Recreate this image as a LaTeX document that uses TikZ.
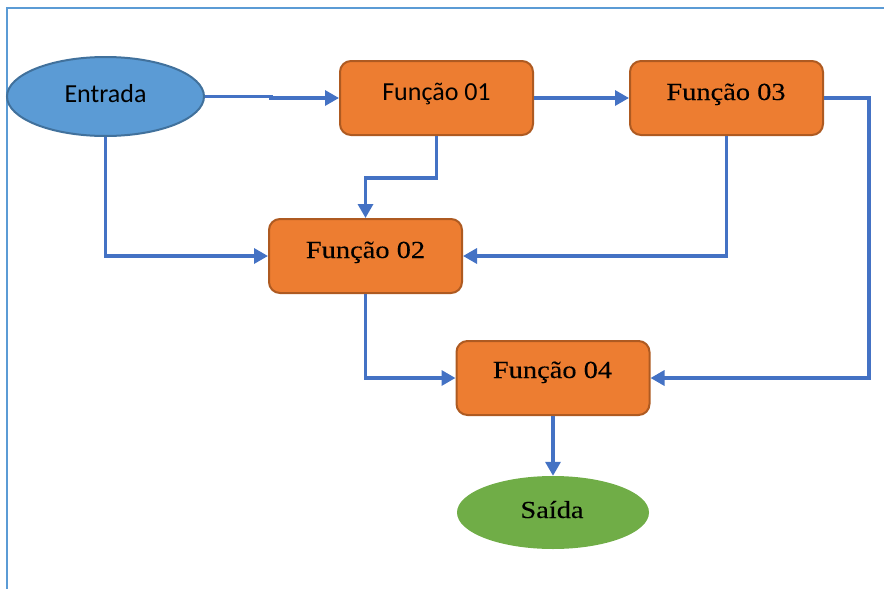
\documentclass[tikz,border=0pt]{standalone}
\usepackage{fontspec}
\setmainfont{Liberation Serif}
\newfontfamily\camb[FakeBold=0.15]{Liberation Serif}
\newfontfamily\calib{Carlito}
\usetikzlibrary{shapes.geometric,arrows.meta}
\definecolor{conn}{HTML}{4472C4}
\definecolor{orfill}{HTML}{ED7D31}
\definecolor{ordraw}{HTML}{AE5A21}
\definecolor{bluefill}{HTML}{5B9BD5}
\definecolor{bluedraw}{HTML}{41719C}
\definecolor{greenfill}{HTML}{70AD47}
\definecolor{framec}{HTML}{5B9BD5}
\newcommand{\serif}[1]{\scalebox{1.16}[1]{\camb\fontsize{24.5}{26}\selectfont #1}}
\tikzset{
  fbox/.style={draw=ordraw, fill=orfill, line width=2pt, rounded corners=11pt,
    minimum width=193pt, minimum height=74pt, inner sep=0pt},
  lbl/.style={anchor=base, inner sep=0pt},
  wire/.style={draw=conn, line width=3.3pt, -{Triangle[length=14pt,width=15pt]}},
}
\begin{document}
\begin{tikzpicture}[x=1pt,y=-1pt]
\useasboundingbox (0,0) rectangle (884,589);
\draw[framec, line width=1.6pt] (7,589) -- (7,8) -- (884,8);
% shapes
\node[ellipse, draw=bluedraw, fill=bluefill, line width=2pt, minimum width=197pt, minimum height=79pt, inner sep=0pt] (E) at (105.5,96.5) {};
\node[fbox] (F1) at (436.5,98) {};
\node[fbox] (F3) at (726.5,98) {};
\node[fbox] (F2) at (365.5,256) {};
\node[fbox] (F4) at (553,378) {};
\node[ellipse, fill=greenfill, minimum width=192pt, minimum height=73pt, inner sep=0pt] (S) at (553,512.5) {};
% labels
\node[lbl] (tE) at (105.5,102) {\calib\fontsize{26}{28}\selectfont Entrada};
\node[lbl] (t1) at (436.5,100.5) {\calib\fontsize{26}{28}\selectfont Função 01};
\node[lbl] (t3) at (726,100) {\serif{Função 03}};
\node[lbl] (t2) at (365.5,258) {\serif{Função 02}};
\node[lbl] (t4) at (552.5,378) {\serif{Função 04}};
\node[lbl] (tS) at (552,518) {\serif{Saída}};
% connectors
\draw[wire] (E.east) -- ++(66,0) |- (F1.west);
\draw[wire] (F1.east) -- (F3.west);
\draw[wire] (F1.south) -- ++(0,42) -| (F2.north);
\draw[wire] (E.south) |- (F2.west);
\draw[wire] (F3.south) |- (F2.east);
\draw[wire] (F3.east) -- ++(45,0) |- (F4.east);
\draw[wire] (F2.south) |- (F4.west);
\draw[wire] (F4.south) -- (S.north);
\end{tikzpicture}
\end{document}
